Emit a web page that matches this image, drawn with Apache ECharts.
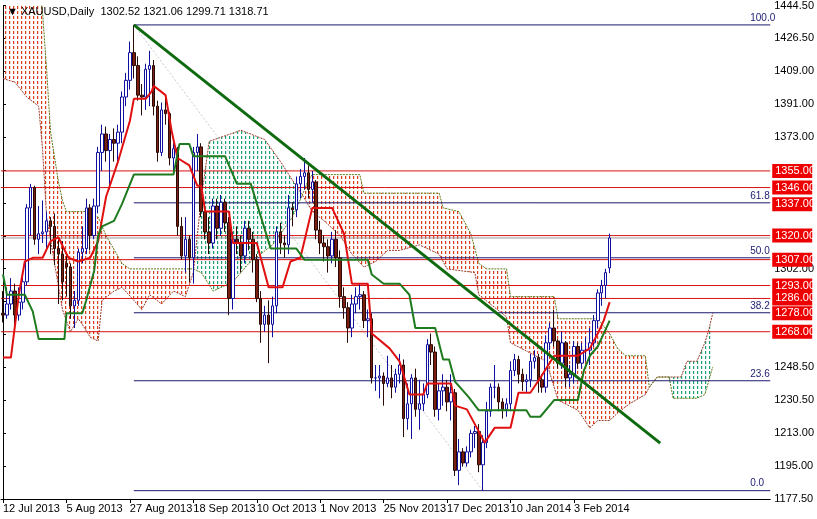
<!DOCTYPE html>
<html><head><meta charset="utf-8">
<script src="https://cdn.jsdelivr.net/npm/echarts@6/dist/echarts.min.js"></script>
<style>html,body{margin:0;padding:0;background:#fff}#c{width:817px;height:519px}</style>
</head><body><div id="c"></div>
<script>
// [open, high, low, close] per trading day from 12 Jul 2013 to 14 Feb 2014
const candles = [
[1278,1290,1273,1277],[1277,1292,1275,1283],[1283,1297,1280,1290],[1290,1294,1271,1277],[1277,1292,1274,1284],[1284,1299,1280,1295],
[1295,1337,1293,1335],[1335,1348,1320,1346],[1346,1347,1315,1318],[1318,1336,1310,1321],[1321,1339,1316,1322],
[1322,1333,1312,1328],[1328,1330,1310,1325],[1325,1332,1304,1313],[1313,1318,1283,1310],[1310,1317,1285,1295],
[1305,1310,1287,1303],[1303,1305,1275,1282],[1282,1290,1270,1285],[1285,1313,1282,1311],[1311,1325,1305,1313],
[1313,1340,1310,1335],[1335,1337,1312,1320],[1320,1340,1318,1336],[1336,1368,1332,1365],[1365,1380,1355,1375],
[1375,1379,1360,1366],[1366,1375,1345,1372],[1372,1378,1360,1370],[1370,1380,1358,1376],[1376,1398,1370,1395],
[1395,1408,1390,1404],[1404,1425,1399,1419],[1419,1434,1405,1412],[1412,1417,1393,1396],[1396,1402,1385,1395],
[1395,1413,1388,1410],[1410,1420,1390,1412],[1412,1415,1385,1390],[1390,1393,1360,1365],[1365,1392,1363,1388],
[1388,1395,1380,1386],[1386,1387,1358,1362],[1362,1370,1355,1367],[1367,1368,1320,1325],[1325,1330,1307,1309],
[1309,1330,1300,1318],[1318,1320,1295,1308],[1308,1368,1294,1365],[1365,1375,1355,1368],[1368,1370,1330,1333],
[1333,1338,1318,1322],[1322,1330,1310,1316],[1316,1340,1313,1336],[1336,1340,1318,1324],[1324,1342,1320,1338],
[1338,1340,1322,1327],[1327,1330,1277,1286],[1286,1322,1280,1318],[1318,1325,1310,1316],[1316,1320,1300,1309],
[1309,1328,1305,1324],[1324,1328,1312,1318],[1318,1322,1300,1307],[1307,1310,1284,1286],[1286,1290,1262,1272],
[1272,1282,1268,1277],[1277,1285,1251,1272],[1272,1287,1265,1282],[1282,1325,1278,1322],[1322,1327,1310,1316],
[1316,1320,1308,1315],[1315,1342,1310,1335],[1335,1338,1325,1334],[1334,1352,1330,1348],[1348,1356,1340,1352],
[1352,1362,1345,1354],[1354,1358,1340,1345],[1345,1355,1338,1349],[1349,1350,1318,1323],[1323,1328,1310,1316],
[1316,1320,1306,1314],[1314,1318,1300,1309],[1309,1322,1305,1318],[1318,1323,1303,1308],[1308,1312,1281,1287],
[1287,1292,1275,1281],[1281,1284,1262,1270],[1270,1288,1265,1283],[1283,1292,1278,1287],[1287,1294,1280,1288],
[1288,1290,1270,1274],[1274,1280,1265,1275],[1275,1278,1240,1243],[1243,1250,1236,1243],[1243,1250,1232,1244],
[1244,1246,1228,1240],[1240,1255,1238,1243],[1243,1250,1232,1238],[1238,1248,1235,1245],[1245,1256,1240,1250],
[1250,1253,1211,1221],[1221,1240,1215,1229],[1229,1245,1210,1243],[1243,1248,1222,1226],[1226,1242,1215,1229],
[1229,1240,1225,1234],[1234,1264,1232,1261],[1261,1267,1250,1257],[1257,1260,1222,1226],[1226,1240,1220,1236],
[1236,1245,1228,1238],[1238,1242,1225,1230],[1230,1245,1220,1235],[1235,1237,1190,1193],[1193,1210,1185,1203],
[1203,1205,1195,1197],[1197,1206,1195,1203],[1203,1215,1200,1213],[1213,1217,1205,1214],
[1214,1218,1192,1196],[1196,1212,1182,1208],[1208,1230,1205,1225],[1225,1240,1222,1238],
[1238,1250,1232,1238],[1238,1240,1225,1230],[1230,1232,1221,1226],[1226,1232,1222,1229],[1229,1252,1225,1247],
[1247,1256,1244,1253],[1253,1255,1240,1245],[1245,1248,1236,1241],[1241,1245,1235,1242],[1242,1256,1238,1252],
[1252,1258,1248,1254],[1254,1256,1235,1242],[1242,1245,1235,1238],[1238,1266,1235,1262],[1262,1273,1258,1270],
[1270,1280,1260,1263],[1263,1264,1248,1251],[1251,1268,1248,1262],[1262,1263,1238,1243],[1243,1250,1238,1245],
[1245,1263,1240,1260],[1260,1262,1248,1251],[1251,1262,1248,1258],[1258,1265,1252,1258],[1258,1270,1250,1262],
[1262,1277,1260,1274],[1274,1291,1270,1289],[1289,1296,1282,1293],[1293,1302,1286,1300],[1302.52,1321.06,1299.71,1318.71]
];
// Ichimoku lines, breakpoints [bar index, price]
const tenkan = [[0,1254],[2,1254],[4,1288],[5.5,1306],[7.5,1308],[10,1308],[12,1317],[14,1319],[16.5,1308],[19,1306],[22,1308],[24,1317],[26,1341],[29,1360],[32,1382],[33,1394],[36,1394],[37.5,1398],[38,1401],[41,1396],[42.5,1377],[44,1362],[47,1358],[49,1347],[50,1347],[51,1333],[57,1333],[58,1316],[64,1316],[67,1292],[70.5,1292],[72.5,1306],[75,1308],[76,1317],[78,1335],[83,1335],[86,1321],[88,1294],[92,1294],[93,1267],[97.5,1259],[100,1252],[102.5,1234],[106,1234],[107,1240],[113,1240],[114,1228],[117,1226],[121.5,1208],[124,1216],[128,1216],[130,1235],[133,1235],[135.5,1243],[139,1255],[145,1255],[148,1259],[150,1267],[151.5,1274],[153,1284]];
const kijun = [[0,1299],[1,1288],[5.5,1288],[7.5,1279],[9,1264],[15.5,1264],[16,1278],[20,1278],[21,1285],[23,1301],[24,1320],[25,1325],[28,1328],[30,1337],[33,1353],[43,1353],[44.5,1369.5],[47,1369.5],[48,1363],[56,1363],[59,1348],[62.5,1348],[67.5,1313],[74,1313],[76,1307],[92,1307],[93,1299],[96,1294],[100,1294],[102.5,1288],[104,1270],[109,1270],[111,1253],[112.5,1253],[114,1241],[117.5,1232.5],[120,1225.5],[132,1225.5],[133,1222],[135.5,1222],[139,1231],[145,1231],[146.5,1247],[148,1255],[150,1260],[151.5,1267],[153,1274]];
const spanA = [[0,1405],[3,1403],[6,1395],[9,1390],[10,1366],[11,1330],[12,1318],[13,1305],[15,1280],[17,1268],[19,1275],[20,1272],[22,1265],[24,1263],[25,1285],[28,1290],[30,1292],[33,1285],[35,1280],[37,1288],[40,1283],[43,1290],[46,1287],[48,1300],[48.5,1301],[50,1340],[52,1371],[56,1374],[60,1377],[66,1372],[70,1360],[73,1350],[75.5,1342],[78,1333],[81,1328],[85,1320],[88,1310],[91,1303],[94,1306],[97,1312],[100,1312],[105,1315],[110,1310],[112,1302],[119,1300],[120,1288],[127,1276],[128,1262],[137,1252],[140,1231],[145,1225.5],[148,1216],[150,1220],[153,1220],[155,1224],[158,1229],[162,1234],[163,1238],[165,1243.5],[171,1243.5],[172.5,1252],[175,1252],[177,1262],[178,1269],[179,1278]];
const spanB = [[0,1470],[9,1460],[10,1440],[11,1410],[12,1376],[14,1349],[15,1339],[16,1333],[21,1333],[24,1330],[26,1320],[30,1305],[32,1302],[48,1302],[48.5,1301],[50,1300],[53,1290],[58,1295],[62,1305],[68,1315],[73,1330],[75.5,1342],[77,1350],[78,1353],[90,1353],[91,1343],[110,1343],[111,1335],[115,1333],[118,1321],[120,1305],[122,1302],[127,1302],[128,1287],[139,1287],[140,1275],[150,1275],[153,1267],[155,1259],[157,1255],[162,1255],[163,1238],[165,1243.5],[168,1243.5],[169,1232],[175,1232],[177,1234],[179,1249]];
// cloud segments: [from index, to index, kind]
const cloudSegs = [[0,48.5,'down'],[48.5,75.5,'up'],[75.5,163,'down'],[163,179,'up']];
const trendLine = [[33,1434],[165.75,1207.7]];
const fibLow = 1182, fibHigh = 1434, fibStart = 33, fibLowIdx = 121;
const fibLevels = [0, 23.6, 38.2, 50, 61.8, 100];
const redLines = [1355, 1346, 1320, 1307, 1293, 1286, 1268];
const redLabels = [1355, 1346, 1337, 1320, 1307, 1293, 1286, 1278, 1268];
const bidPrice = 1318.71;
const yTickLabels = ['1177.50','1195.00','1213.00','1230.50','1248.50','','','1302.00','','','','1373.00','1391.00','1409.00','1426.50','1444.50'];
const dateTickEvery = 16;

const MON=['Jan','Feb','Mar','Apr','May','Jun','Jul','Aug','Sep','Oct','Nov','Dec'];
const holidays=['2013-12-25','2014-01-01'];
const cats=[]; {let d=new Date(Date.UTC(2013,6,12)); while(cats.length<194){const w=d.getUTCDay(); const iso=d.toISOString().slice(0,10); if(w>0&&w<6&&!holidays.includes(iso)) cats.push(d.getUTCDate()+' '+MON[d.getUTCMonth()]+' '+d.getUTCFullYear()); d=new Date(d.getTime()+86400000);} }
const nBars=candles.length;
const X0=-0.5, X1=193.5;
const dotColor={down:'#dc3c18',up:'#18a070'};

function cloudRender(params,api){
 const seg=cloudSegs[api.value(2)];const lo=seg[0],hi=seg[1];
 const a=spanA.filter(p=>p[0]>=lo&&p[0]<=hi).map(p=>api.coord(p));
 const b=spanB.filter(p=>p[0]>=lo&&p[0]<=hi).map(p=>api.coord(p)).reverse();
 const pts=a.concat(b);
 let minX=1e9,maxX=-1e9,minY=1e9,maxY=-1e9;
 pts.forEach(p=>{minX=Math.min(minX,p[0]);maxX=Math.max(maxX,p[0]);minY=Math.min(minY,p[1]);maxY=Math.max(maxY,p[1]);});
 minY=Math.max(minY,0);
 let d='';
 for(let x=Math.floor(minX/4)*4+1;x<=maxX;x+=4){for(let y=Math.floor(minY/5)*5+1;y<=maxY;y+=5){d+='M'+x+' '+y+'h1.2v3h-1.2Z';}}
 return {type:'group',children:[{type:'path',shape:{pathData:d},style:{fill:dotColor[seg[2]]}}],
   clipPath:{type:'polygon',shape:{points:pts}}};
}
function hline(v,color,z,x0){return {type:'line',xAxisIndex:1,data:[[x0,v],[X1,v]],showSymbol:false,silent:true,z:z,lineStyle:{color:color,width:1},animation:false};}
function labelRender(params,api){
 const v=api.value(1);const p=api.coord([X1,v]);
 return {type:'group',children:[
  {type:'rect',shape:{x:p[0]+2,y:p[1]-7,width:40,height:14},style:{fill:'#ee0000'}},
  {type:'text',style:{x:p[0]+5,y:p[1],text:v.toFixed(2),fill:'#fff',font:'11px Liberation Sans',verticalAlign:'middle'}}]};
}

const series=[
 {type:'custom',xAxisIndex:1,z:1,clip:true,data:cloudSegs.map((s,i)=>[s[0],s[1],i]),renderItem:cloudRender},
 {type:'line',xAxisIndex:1,data:spanA,showSymbol:false,z:2,lineStyle:{color:'#9a3a2a',width:1,type:[2,1]},silent:true},
 {type:'line',xAxisIndex:1,data:spanB,showSymbol:false,z:2,lineStyle:{color:'#5f7a1a',width:1,type:[2,1]},silent:true}
];
redLines.forEach(v=>series.push(hline(v,'#d81010',3,X0)));
series.push(hline(bidPrice,'#9a9a9a',3,X0));
fibLevels.forEach(r=>{const v=fibLow+(fibHigh-fibLow)*r/100; const s=hline(v,'#1a1a70',3,fibStart);
 s.endLabel={show:true,formatter:r.toFixed(1),offset:[-28,-7],color:'#1a1a70',fontSize:10}; series.push(s);});
series.push({type:'line',xAxisIndex:1,data:[[fibStart,fibHigh],[fibLowIdx,fibLow]],showSymbol:false,z:2,lineStyle:{color:'#c8c8c8',width:1,type:[2,2]}});
series.push({type:'candlestick',xAxisIndex:0,z:5,barWidth:3,data:candles.map(c=>[c[0],c[3],c[2],c[1]]),
   itemStyle:{color:'#ffffff',color0:'#7a1e12',borderColor:'#1010a0',borderColor0:'#2a0a05',borderWidth:1}});
series.push({type:'line',xAxisIndex:1,data:tenkan,showSymbol:false,z:6,lineStyle:{color:'#e01010',width:2}});
series.push({type:'line',xAxisIndex:1,data:kijun,showSymbol:false,z:6,lineStyle:{color:'#1e7a1e',width:2}});
series.push({type:'line',xAxisIndex:1,data:trendLine,showSymbol:false,z:7,lineStyle:{color:'#0e6a0e',width:3}});
series.push({type:'custom',xAxisIndex:1,z:9,clip:false,data:redLabels.map(v=>[X1,v]),renderItem:labelRender});

const chart=echarts.init(document.getElementById('c'),null,{renderer:'canvas'});
chart.setOption({
 animation:false,
 textStyle:{fontFamily:'Liberation Sans'},
 title:{text:'\u25BC XAUUSD,Daily  1302.52 1321.06 1299.71 1318.71',left:2,top:1,textStyle:{fontSize:11,fontWeight:'normal',color:'#000',fontFamily:'Liberation Sans'}},
 grid:{left:0,right:41,top:4,bottom:20},
 xAxis:[{type:'category',data:cats,boundaryGap:true,
   axisLine:{lineStyle:{color:'#000'}},
   axisTick:{show:true,alignWithLabel:true,length:4,interval:(i)=>i%dateTickEvery===0&&i<nBars,lineStyle:{color:'#000'}},
   axisLabel:{interval:(i)=>i%dateTickEvery===0&&i<nBars,align:'left',margin:4,color:'#000',fontSize:11},
   splitLine:{show:false}},
  {type:'value',min:X0,max:X1,show:false}],
 yAxis:{type:'value',position:'right',min:1177.5,max:1444.5,interval:17.8,scale:true,
   axisLine:{show:true,lineStyle:{color:'#000'}},axisTick:{show:true,length:3,lineStyle:{color:'#000'}},
   axisLabel:{color:'#000',fontSize:11,margin:4,formatter:(v)=>yTickLabels[Math.round((v-1177.5)/17.8)]||''},
   splitLine:{show:false}},
 series:series
});
</script></body></html>
